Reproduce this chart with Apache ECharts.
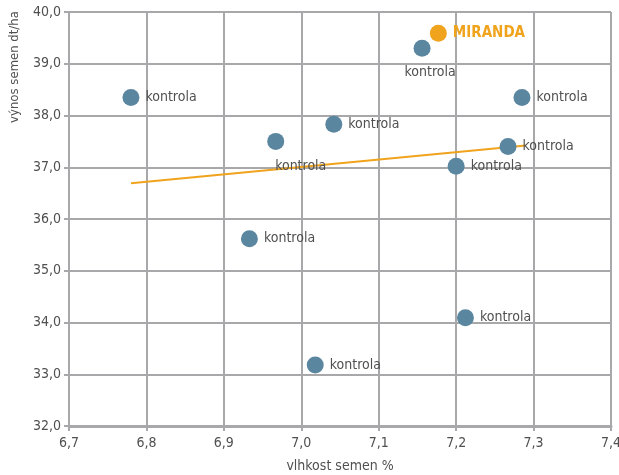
<!DOCTYPE html>
<html><head><meta charset="utf-8">
<script src="https://cdn.jsdelivr.net/npm/echarts@6/dist/echarts.min.js"></script>
<style>html,body{margin:0;padding:0;background:#fff}#c{width:619px;height:475px}</style>
</head><body><div id="c"></div>
<script>
// data
var pointX = [6.780, 6.967, 7.042, 7.156, 7.285, 7.267, 7.200, 6.933, 7.212, 7.018];
var pointY = [38.35, 37.50, 37.83, 39.30, 38.35, 37.40, 37.02, 35.62, 34.09, 33.18];
var pointLabels = ['kontrola','kontrola','kontrola','kontrola','kontrola','kontrola','kontrola','kontrola','kontrola','kontrola'];
var highlightX = [7.177];
var highlightY = [39.59];
var highlightLabels = ['MIRANDA'];
var trendX = [6.78, 7.29];
var trendY = [36.69, 37.42];
var xTicks = [6.7, 6.8, 6.9, 7.0, 7.1, 7.2, 7.3, 7.4];
var yTicks = [32, 33, 34, 35, 36, 37, 38, 39, 40];
var xName = 'vlhkost semen %';
var yName = 'výnos semen dt/ha';

// layout (label placement per point)
var belowIdx = {1: 25, 3: 8};
var FONT = '"Liberation Sans Narrow", "DejaVu Sans Condensed", "Roboto", sans-serif';
var blue = '#5b86a0', orange = '#f0a31c', gridC = '#a8a8aa', txt = '#505050';

var chart = echarts.init(document.getElementById('c'));
var fmt = function(v){ return v.toFixed(1).replace('.', ','); };
var pts = pointX.map(function(x, i){
  var d = {value: [x, pointY[i]], name: pointLabels[i]};
  if (belowIdx[i] !== undefined) {
    d.label = {position: 'bottom', offset: [belowIdx[i], 0], distance: 9};
  }
  return d;
});
chart.setOption({
  animation: false,
  textStyle: {fontFamily: FONT},
  grid: {left: 69, right: 8, top: 12, bottom: 49, outerBoundsMode: 'none', containLabel: false},
  xAxis: {
    type: 'value', min: xTicks[0], max: xTicks[xTicks.length-1], interval: 0.1,
    axisLine: {show: true, lineStyle: {color: gridC, width: 3}},
    axisTick: {show: true, length: 5, lineStyle: {color: gridC, width: 2}},
    axisLabel: {color: txt, fontSize: 14, fontFamily: FONT, margin: 10, formatter: fmt},
    splitLine: {show: true, lineStyle: {color: gridC, width: 2}},
    name: xName, nameLocation: 'middle', nameGap: 33,
    nameTextStyle: {color: txt, fontSize: 14, fontFamily: FONT}
  },
  yAxis: {
    type: 'value', min: yTicks[0], max: yTicks[yTicks.length-1], interval: 1,
    axisLine: {show: true, lineStyle: {color: gridC, width: 2}},
    axisTick: {show: true, length: 5, lineStyle: {color: gridC, width: 2}},
    axisLabel: {color: txt, fontSize: 14, fontFamily: FONT, margin: 8, formatter: fmt},
    splitLine: {show: true, lineStyle: {color: gridC, width: 2}}
  },
  graphic: [{
    type: 'text', x: 15, y: 67, rotation: Math.PI/2,
    style: {text: yName, fill: txt, font: '13px ' + FONT, textAlign: 'center', textVerticalAlign: 'middle'}
  }],
  series: [
    {
      type: 'line', data: trendX.map(function(x,i){return [x, trendY[i]];}),
      showSymbol: false, lineStyle: {color: orange, width: 2}, z: 2, silent: true
    },
    {
      type: 'scatter', data: pts, symbolSize: 17, itemStyle: {color: blue, opacity: 1}, z: 3,
      label: {show: true, position: 'right', distance: 6, formatter: '{b}', color: txt, fontSize: 14, fontFamily: FONT}
    },
    {
      type: 'scatter', data: highlightX.map(function(x,i){return {value:[x, highlightY[i]], name: highlightLabels[i]};}),
      symbolSize: 17, itemStyle: {color: orange, opacity: 1}, z: 4,
      label: {show: true, position: 'right', distance: 6, formatter: '{b}', color: orange, fontSize: 15, fontWeight: 'bold', fontFamily: FONT}
    }
  ]
});
</script></body></html>
